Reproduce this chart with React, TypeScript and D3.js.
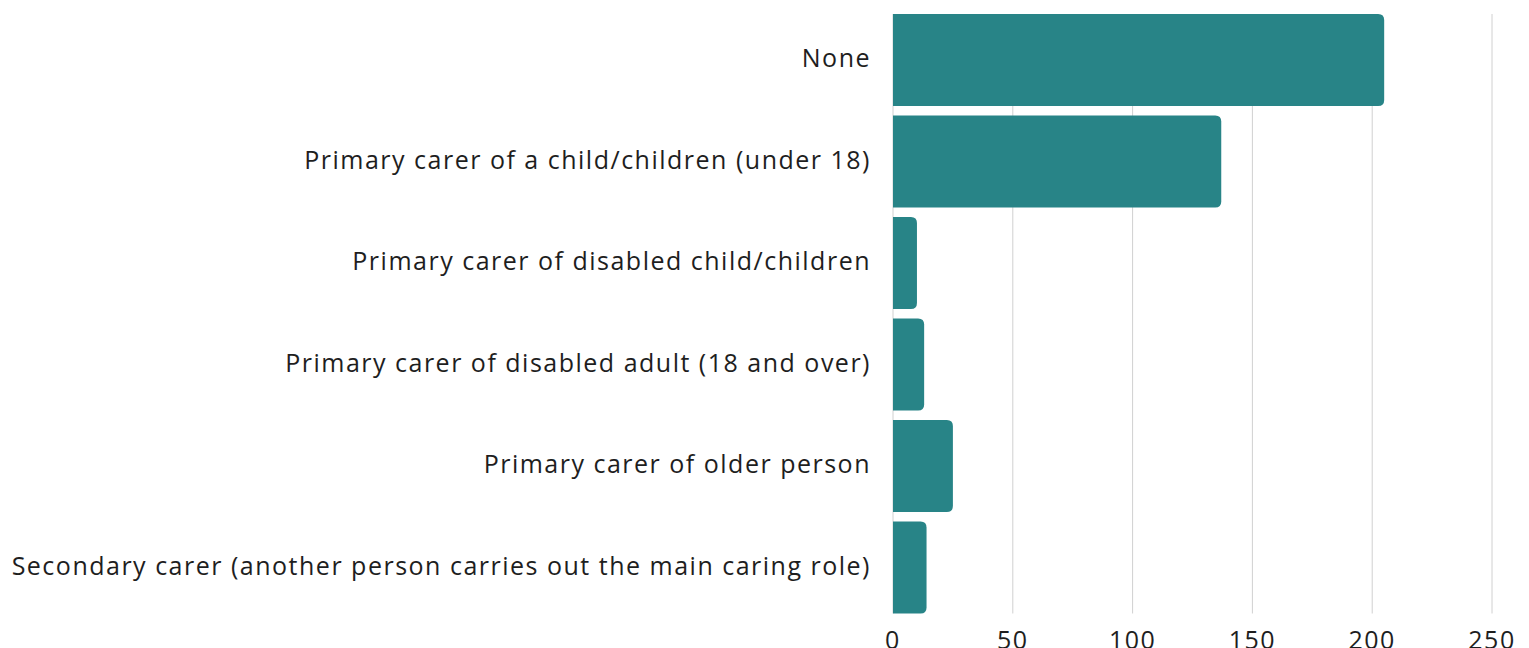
import React from "react";
import * as d3 from "d3";

const categories = [
  "None",
  "Primary carer of a child/children (under 18)",
  "Primary carer of disabled child/children",
  "Primary carer of disabled adult (18 and over)",
  "Primary carer of older person",
  "Secondary carer (another person carries out the main caring role)",
];
const values = [205, 137, 10, 13, 25, 14];
const tickValues = [0, 50, 100, 150, 200, 250];

const W = 1529;
const H = 648;
const FONT = "'Open Sans', sans-serif";

function barPath(x0: number, x1: number, y0: number, h: number, r: number) {
  const rr = Math.min(r, (x1 - x0) / 2, h / 2);
  return `M${x0},${y0}H${x1 - rr}Q${x1},${y0} ${x1},${y0 + rr}V${y0 + h - rr}Q${x1},${y0 + h} ${x1 - rr},${y0 + h}H${x0}Z`;
}

export default function App() {
  const x = d3.scaleLinear().domain([0, 250]).range([893, 1492]);
  const y = d3
    .scaleBand<string>()
    .domain(categories)
    .range([9.25, 618.25])
    .paddingInner(0.0936)
    .paddingOuter(0.0468);
  const gridTop = y(categories[0])!;
  const gridBottom = y(categories[categories.length - 1])! + y.bandwidth();
  return (
    <svg
      width={W}
      height={H}
      style={{ position: "absolute", left: 0, top: 0, display: "block" }}
    >
      <rect width={W} height={H} fill="#fff" />
      {tickValues.map((t) => (
        <line
          key={"g" + t}
          x1={x(t)}
          x2={x(t)}
          y1={gridTop}
          y2={gridBottom}
          stroke="#d0d0d0"
          strokeWidth={1}
        />
      ))}
      {categories.map((c, i) => (
        <path
          key={"b" + c}
          d={barPath(x(0), x(values[i]), y(c)!, y.bandwidth(), 6)}
          fill="#288487"
        />
      ))}
      {categories.map((c) => (
        <text
          key={"l" + c}
          x={871}
          y={y(c)! + y.bandwidth() / 2 + 7}
          textAnchor="end"
          fontFamily={FONT}
          fontSize={25}
          letterSpacing={1.5}
          fill="#1e1e1e"
        >
          {c}
        </text>
      ))}
      {tickValues.map((t) => (
        <text
          key={"t" + t}
          x={x(t)}
          y={649}
          textAnchor="middle"
          fontFamily={FONT}
          fontSize={25}
          letterSpacing={1.5}
          fill="#1e1e1e"
        >
          {t}
        </text>
      ))}
    </svg>
  );
}
